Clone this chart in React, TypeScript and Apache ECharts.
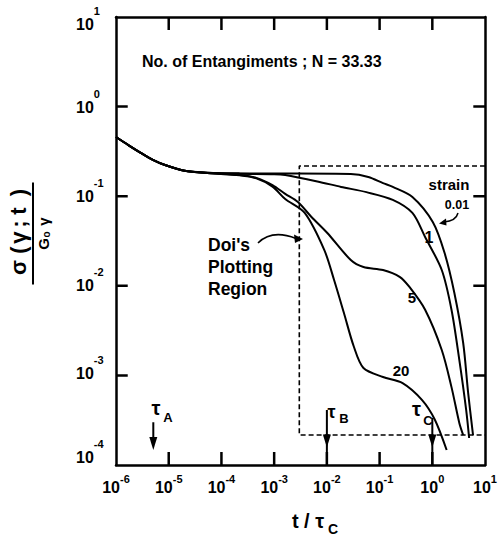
import React, { useEffect, useRef } from "react";
import * as echarts from "echarts";

const FONT = "Liberation Sans";

// axis ranges
const xMin = 1e-6;
const xMax = 10;
const yMin = 1e-4;
const yMax = 10;

// inner tick positions (decades)
const xTickValues = [1e-5, 1e-4, 1e-3, 1e-2, 1e-1, 1];
const yTickValues = [1e-3, 1e-2, 1e-1, 1];

// strain 0.01
const t001 = [1e-6, 1.74e-6, 3.0e-6, 5.0e-6, 8.5e-6, 2.0e-5, 5.4e-5, 2.2e-4, 1.0e-3, 2.8e-3, 2.84e-2, 6.1e-2, 1.16e-1, 1.78e-1, 4.19e-1, 1.02, 1.71, 2.62, 3.85, 4.78, 5.92];
const v001 = [0.458, 0.37, 0.303, 0.255, 0.223, 0.192, 0.183, 0.18, 0.179, 0.179, 0.177, 0.164, 0.14, 0.127, 0.098, 0.0515, 0.0232, 0.0083, 0.0023, 6.4e-4, 2.16e-4];
// strain 1
const t1 = [1e-6, 1.74e-6, 3.0e-6, 5.0e-6, 8.5e-6, 2.0e-5, 5.4e-5, 2.2e-4, 1.0e-3, 1.62e-3, 6.6e-3, 1.86e-2, 5.62e-2, 1.78e-1, 4.19e-1, 7.3e-1, 1.51, 2.31, 3.25, 4.39, 4.99];
const v1 = [0.458, 0.37, 0.303, 0.255, 0.223, 0.192, 0.183, 0.178, 0.176, 0.172, 0.146, 0.127, 0.111, 0.091, 0.065, 0.035, 0.015, 0.0054, 0.00149, 4.1e-4, 2.0e-4];
// strain 5
const t5 = [1e-6, 1.74e-6, 3.0e-6, 5.0e-6, 8.5e-6, 2.0e-5, 5.4e-5, 2.2e-4, 4.6e-4, 9.3e-4, 1.62e-3, 2.82e-3, 5.1e-3, 1.02e-2, 2.84e-2, 4.94e-2, 1.16e-1, 2.4e-1, 3.68e-1, 7.3e-1, 1.51, 2.31, 3.25, 3.85];
const v5 = [0.458, 0.37, 0.303, 0.255, 0.223, 0.192, 0.181, 0.172, 0.16, 0.133, 0.106, 0.086, 0.0586, 0.0388, 0.0194, 0.0162, 0.015, 0.0126, 0.0097, 0.0054, 0.00192, 7.4e-4, 2.95e-4, 2.16e-4];
// strain 20
const t20 = [1e-6, 1.74e-6, 3.0e-6, 5.0e-6, 8.5e-6, 2.0e-5, 5.4e-5, 2.2e-4, 4.6e-4, 9.3e-4, 1.62e-3, 3.8e-3, 8.95e-3, 1.37e-2, 2.1e-2, 3.24e-2, 4.94e-2, 1.16e-1, 2.73e-1, 6.41e-1, 1.117, 1.87];
const v20 = [0.458, 0.37, 0.303, 0.255, 0.223, 0.192, 0.181, 0.171, 0.158, 0.128, 0.093, 0.065, 0.025, 0.0116, 0.005, 0.0021, 0.00121, 9.6e-4, 8.2e-4, 5.3e-4, 3.2e-4, 1.47e-4];

// Doi's plotting region (dashed)
const regionT = [10, 3.0e-3, 3.0e-3, 10];
const regionV = [0.217, 0.217, 2.16e-4, 2.16e-4];

// tau markers
const tauAT = 5.1e-6;
const tauAV = [3.0e-4, 1.74e-4];
const tauBT = 1e-2;
const tauBV = [4.1e-4, 1.85e-4, 1e-4];
const tauCT = 1;
const tauCV = [3.35e-4, 1.85e-4, 1e-4];

// tick length factors (13px on y decades of ~89.6px, 12px on x decades of ~53.9px)
const TICK_Y = Math.pow(10, 13 / 89.6);
const TICK_X = Math.pow(10, 12 / 53.9);

const zip = (t: number[], v: number[]) => t.map((x, i) => [x, v[i]]);

const curve = (name: string, t: number[], v: number[]) => ({
  name,
  type: "line",
  data: zip(t, v),
  smooth: 0.3,
  symbol: "none",
  lineStyle: { color: "#000", width: 2 },
  z: 3,
});

const arrowSeries = (t: number, vals: number[], headIndex: number) => ({
  type: "line",
  symbol: "none",
  showSymbol: true,
  lineStyle: { color: "#000", width: 2 },
  itemStyle: { color: "#000" },
  data: vals.map((v, i) =>
    i === headIndex
      ? { value: [t, v], symbol: "triangle", symbolSize: [8, 13], symbolRotate: 180 }
      : { value: [t, v], symbol: "none" }
  ),
  z: 4,
});

const tickSeg = (pts: number[][]) => ({
  type: "line",
  data: pts.map((p) => ({ value: p, symbol: "none" })),
  symbol: "none",
  lineStyle: { color: "#000", width: 2.5 },
  z: 6,
});

const tickSeries = [
  ...xTickValues.flatMap((v) => [
    tickSeg([[v, yMin], [v, yMin * TICK_Y]]),
    tickSeg([[v, yMax], [v, yMax / TICK_Y]]),
  ]),
  ...yTickValues.flatMap((v) => [
    tickSeg([[xMin, v], [xMin * TICK_X, v]]),
    tickSeg([[xMax, v], [xMax / TICK_X, v]]),
  ]),
];

const expKey = (e: number) => (e < 0 ? "m" + -e : "p" + e);

// vertical offset of each y label's "10" from its tick (px)
const yShift: Record<number, number> = { 1: 7, 0: 1, [-1]: 0, [-2]: 0, [-3]: -2, [-4]: -8 };

const yRich: Record<string, any> = {
  s: { fontFamily: FONT, fontWeight: "bold", fontSize: 11, lineHeight: 11, verticalAlign: "top", color: "#000" },
};
Object.keys(yShift).forEach((k) => {
  const e = Number(k);
  const d = yShift[e];
  yRich["b" + expKey(e)] = {
    fontFamily: FONT,
    fontWeight: "bold",
    fontSize: 16,
    lineHeight: 38 - 2 * d,
    verticalAlign: "top",
    padding: [11, 0, 0, 0],
    color: "#000",
  };
});

const yLabel = (v: number) => {
  const e = Math.round(Math.log10(v));
  return `{b${expKey(e)}|10}{s|${e}}`;
};
const xLabel = (v: number) => {
  const e = Math.round(Math.log10(v));
  return `{b|10}{s|${e}}`;
};

const axisLineStyle = { show: true, lineStyle: { color: "#000", width: 2.5 } };

function txt(x: number, y: number, text: string, size: number, align: string) {
  return {
    type: "text",
    x,
    y,
    style: {
      text,
      fontSize: size,
      fontWeight: "bold",
      fontFamily: FONT,
      fill: "#000",
      align,
      textAlign: align,
      verticalAlign: "middle",
      textVerticalAlign: "middle",
    },
    z: 10,
  };
}

function makeOption() {
  return {
    animation: false,
    backgroundColor: "#fff",
    grid: { left: 116, right: 7, top: 17, bottom: 74, containLabel: false },
    xAxis: [
      {
        type: "log",
        logBase: 10,
        min: xMin,
        max: xMax,
        interval: 1,
        position: "bottom",
        axisLine: axisLineStyle,
        axisTick: { show: false },
        minorTick: { show: false },
        splitLine: { show: false },
        axisLabel: {
          margin: 8,
          formatter: xLabel,
          rich: {
            b: { fontFamily: FONT, fontWeight: "bold", fontSize: 16, lineHeight: 16, verticalAlign: "top", padding: [6.5, 0, 0, 0], color: "#000" },
            s: { fontFamily: FONT, fontWeight: "bold", fontSize: 11, lineHeight: 11, verticalAlign: "top", color: "#000" },
          },
        },
      },
      {
        type: "log",
        logBase: 10,
        min: xMin,
        max: xMax,
        interval: 1,
        position: "top",
        axisLine: axisLineStyle,
        axisTick: { show: false },
        splitLine: { show: false },
        axisLabel: { show: false },
      },
    ],
    yAxis: [
      {
        type: "log",
        logBase: 10,
        min: yMin,
        max: yMax,
        interval: 1,
        position: "left",
        axisLine: axisLineStyle,
        axisTick: { show: false },
        splitLine: { show: false },
        axisLabel: {
          margin: 40,
          align: "left",
          formatter: yLabel,
          rich: yRich,
        },
      },
      {
        type: "log",
        logBase: 10,
        min: yMin,
        max: yMax,
        interval: 1,
        position: "right",
        axisLine: axisLineStyle,
        axisTick: { show: false },
        splitLine: { show: false },
        axisLabel: { show: false },
      },
    ],
    series: [
      curve("0.01", t001, v001),
      curve("1", t1, v1),
      curve("5", t5, v5),
      curve("20", t20, v20),
      {
        name: "region",
        type: "line",
        data: zip(regionT, regionV),
        symbol: "none",
        lineStyle: { color: "#000", width: 1.6, type: [5, 3] },
        z: 2,
      },
      arrowSeries(tauAT, tauAV, 1),
      arrowSeries(tauBT, tauBV, 1),
      arrowSeries(tauCT, tauCV, 1),
      ...tickSeries,
    ],
    graphic: [
      txt(142, 61, "No. of Entangiments ; N = 33.33", 16, "left"),
      txt(449, 184, "strain", 15, "center"),
      txt(457, 205, "0.01", 12.5, "center"),
      txt(429, 237, "1", 16, "center"),
      txt(412, 297, "5", 15, "center"),
      txt(401, 370, "20", 15, "center"),
      txt(208, 245, "Doi's", 17.5, "left"),
      txt(208, 267, "Plotting", 17.5, "left"),
      txt(208, 289, "Region", 17.5, "left"),
      txt(156, 408, "τ", 20, "center"),
      txt(168, 417.5, "A", 13, "center"),
      txt(331.5, 411.5, "τ", 18, "center"),
      txt(344, 418.5, "B", 13, "center"),
      txt(416.5, 409, "τ", 20, "center"),
      txt(428, 420, "C", 13, "center"),
      // Doi's arrow
      {
        type: "bezierCurve",
        shape: { x1: 258, y1: 243, x2: 296, y2: 238.5, cpx1: 272, cpy1: 229 },
        style: { stroke: "#000", lineWidth: 1.6, fill: null },
      },
      {
        type: "polygon",
        shape: { points: [[303, 239], [294, 234.5], [295, 243]] },
        style: { fill: "#000" },
      },
      // strain arrow
      {
        type: "bezierCurve",
        shape: { x1: 458, y1: 213, x2: 444, y2: 222, cpx1: 456, cpy1: 221 },
        style: { stroke: "#000", lineWidth: 1.5, fill: null },
      },
      {
        type: "polygon",
        shape: { points: [[439, 223.5], [446, 218.5], [446.5, 225.5]] },
        style: { fill: "#000" },
      },
      // x title
      txt(308, 521, "t / τ", 20, "center"),
      txt(333, 529, "C", 14, "center"),
      // y title (rotated fraction)
      {
        type: "group",
        x: 33,
        y: 233.5,
        rotation: Math.PI / 2,
        children: [
          txt(-34, -15, "σ", 22, "center"),
          txt(-16.5, -15, "(", 22, "center"),
          txt(-4, -15, "γ", 22, "center"),
          txt(9.5, -15, ";", 22, "center"),
          txt(22.5, -15, "t", 22, "center"),
          txt(41, -15, ")", 22, "center"),
          {
            type: "line",
            shape: { x1: -51, y1: 0, x2: 51, y2: 0 },
            style: { stroke: "#000", lineWidth: 2 },
          },
          txt(-10.5, 10, "G", 15, "center"),
          txt(-1, 13.5, "o", 10, "center"),
          txt(12, 10, "γ", 15, "center"),
        ],
      },
    ],
  };
}

export default function App() {
  const ref = useRef<HTMLDivElement>(null);
  useEffect(() => {
    if (!ref.current) return;
    const chart = echarts.init(ref.current, null, { renderer: "svg" });
    chart.setOption(makeOption() as any);
    return () => chart.dispose();
  }, []);
  return (
    <div
      ref={ref}
      style={{ position: "absolute", left: 0, top: 0, width: 500, height: 539, background: "#fff" }}
    />
  );
}
